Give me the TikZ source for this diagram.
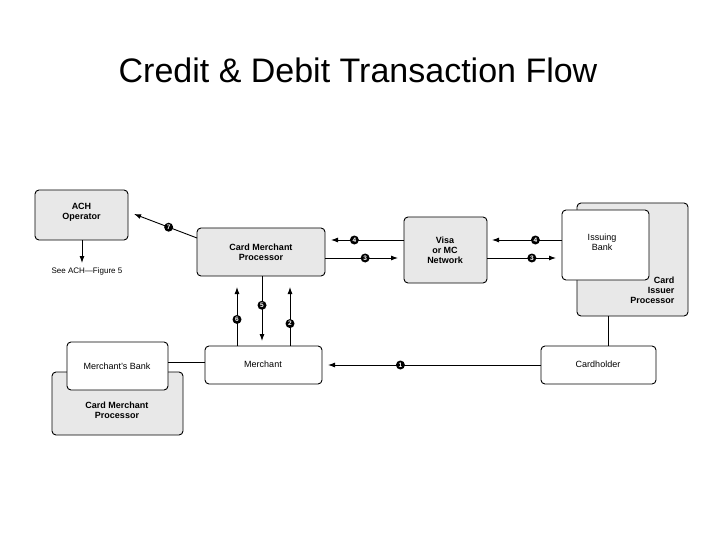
\documentclass[tikz,border=0pt]{standalone}
\usepackage{fontspec}
\setmainfont{Liberation Sans}
\usetikzlibrary{arrows.meta}
\begin{document}
\begin{tikzpicture}[x=1pt,y=-1pt,
  gbox/.style={draw,line width=0.9pt,rounded corners=4pt,fill=gray!18},
  wbox/.style={draw,line width=0.9pt,rounded corners=4pt,fill=white},
  lbl/.style={font=\fontsize{9}{10}\selectfont\bfseries,align=center},
  lbn/.style={font=\fontsize{9}{10}\selectfont,align=center},
  num/.style={circle,fill=black,text=white,inner sep=0pt,minimum size=9pt,font=\fontsize{6.5}{7}\selectfont\bfseries},
  arr/.style={line width=0.9pt,-{Latex[length=7pt,width=5pt]}},
  ln/.style={line width=0.9pt}]
\useasboundingbox (0,0) rectangle (720,540);
\node[font=\fontsize{34}{40}\selectfont] (title) at (358,70) {Credit \& Debit Transaction Flow};
% boxes
\draw[gbox] (35,190) rectangle (128,240);
\node[lbl] (ach) at (81.5,212) {ACH\\Operator};
\draw[gbox] (197,228) rectangle (325,276);
\node[lbl] (cmp) at (261,252) {Card Merchant\\Processor};
\draw[gbox] (404,217) rectangle (487,283);
\node[lbl] (visa) at (445,250) {Visa\\or MC\\Network};
\draw[gbox] (577,203) rectangle (688,316);
\node[lbl,align=right,anchor=east] (cip) at (678,290) {Card\\Issuer\\Processor};
\draw[wbox] (562,210) rectangle (649,280);
\node[lbn] (ib) at (602,242) {Issuing\\Bank};
\draw[wbox] (205,346) rectangle (322,384);
\node[lbn] (mer) at (263,364) {Merchant};
\draw[wbox] (541,346) rectangle (656,384);
\node[lbn] (ch) at (598,364) {Cardholder};
\draw[gbox] (52,372) rectangle (183,435);
\node[lbl] (cmp2) at (117,410) {Card Merchant\\Processor};
\draw[wbox] (67,342) rectangle (168,390);
\node[lbn] (mb) at (117,366) {Merchant's Bank};
\node[lbn,font=\fontsize{8}{9}\selectfont] (see) at (87,271) {See ACH---Figure 5};
% connector coordinates
\coordinate (cmpL) at (197,238);
\coordinate (achR) at (134,214);
\draw[arr] (cmpL) -- node[num,pos=0.45] (n7) {7} (achR);
\coordinate (achB) at (82,240);
\coordinate (seeT) at (82,263);
\draw[arr] (achB) -- (seeT);
\coordinate (v4a) at (404,240); \coordinate (c4a) at (331,240);
\draw[arr] (v4a) -- node[num,pos=0.68] (n4a) {4} (c4a);
\coordinate (c3a) at (325,258); \coordinate (v3a) at (398,258);
\draw[arr] (c3a) -- node[num,pos=0.55] (n3a) {3} (v3a);
\coordinate (i4) at (562,240); \coordinate (v4b) at (492,240);
\draw[arr] (i4) -- node[num,pos=0.38] (n4b) {4} (v4b);
\coordinate (v3b) at (487,258); \coordinate (i3) at (556,258);
\draw[arr] (v3b) -- node[num,pos=0.65] (n3b) {3} (i3);
\coordinate (m6) at (237,346); \coordinate (c6) at (237,287);
\draw[arr] (m6) -- node[num,pos=0.45] (n6) {6} (c6);
\coordinate (c5) at (262,276); \coordinate (m5) at (262,341);
\draw[arr] (c5) -- node[num,pos=0.45] (n5) {5} (m5);
\coordinate (m2) at (290,346); \coordinate (c2) at (290,287);
\draw[arr] (m2) -- node[num,pos=0.38] (n2) {2} (c2);
\coordinate (chL) at (541,365); \coordinate (mR) at (328,365);
\draw[arr] (chL) -- node[num,pos=0.66] (n1) {1} (mR);
\coordinate (mbR) at (168,362); \coordinate (mL) at (205,362);
\draw[ln] (mbR) -- (mL);
\coordinate (cipB) at (608,316); \coordinate (chT) at (608,346);
\draw[ln] (cipB) -- (chT);
\end{tikzpicture}
\end{document}
